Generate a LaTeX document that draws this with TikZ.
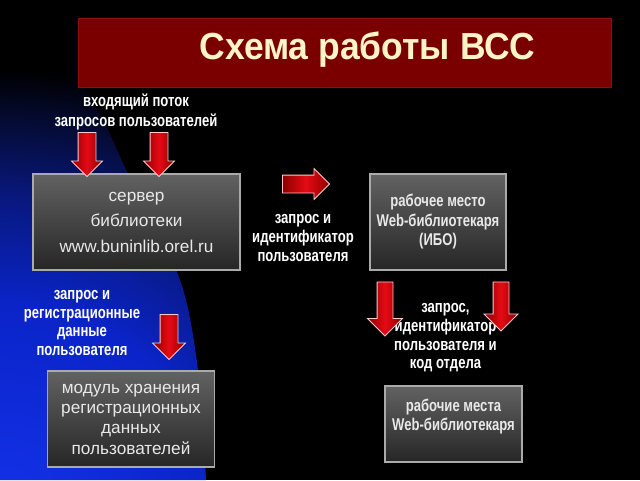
\documentclass[tikz,border=0pt]{standalone}
\usepackage{fontspec}
\setmainfont{Liberation Sans}
\newfontfamily\lblfont[FakeStretch=0.77]{Liberation Sans}
\newfontfamily\ttlfont[FakeStretch=0.94]{Liberation Sans}
\usetikzlibrary{shapes.arrows}
\definecolor{gA}{RGB}{20,50,235}
\definecolor{gB}{RGB}{10,36,200}
\definecolor{gC}{RGB}{8,24,125}
\definecolor{gD}{RGB}{5,12,55}
\definecolor{barfill}{RGB}{122,0,0}
\definecolor{baredge}{RGB}{140,15,15}
\definecolor{ttl}{RGB}{255,244,200}
\definecolor{boxtop}{RGB}{98,98,98}
\definecolor{boxbot}{RGB}{38,38,38}
\definecolor{boxedge}{RGB}{170,170,170}
\definecolor{boxtext}{RGB}{232,232,232}
\definecolor{arrdark}{RGB}{140,0,0}
\definecolor{arrbright}{RGB}{230,10,20}
\definecolor{arredge}{RGB}{255,200,200}
\pgfdeclareradialshading{glow}{\pgfpoint{0bp}{0bp}}{color(0bp)=(gA); color(12bp)=(gB); color(18bp)=(gC); color(22bp)=(gD); color(25bp)=(black); color(50bp)=(black)}
\begin{document}
\begin{tikzpicture}[x=1pt,y=-1pt,
  titlebar/.style={draw=baredge, line width=1pt, fill=barfill, minimum width=533pt, minimum height=69pt, inner sep=0pt},
  titletext/.style={text=ttl, font=\ttlfont\bfseries\fontsize{37.7}{40}\selectfont, inner sep=0pt},
  boxnode/.style={draw=boxedge, line width=1.2pt, top color=boxtop, bottom color=boxbot, inner sep=0pt, align=center, text=boxtext},
  plaintext/.style={font=\fontsize{17.2}{25.5}\selectfont},
  lbl/.style={text=white, align=center, inner sep=0pt, font=\lblfont\bfseries\fontsize{17}{18.7}\selectfont},
  blockarrow/.style={shape=single arrow, draw=arredge, line width=0.8pt, inner sep=0pt, inner ysep=8.5pt,
     single arrow head extend=6.5pt, left color=arrdark, right color=arrdark, middle color=arrbright}
]
\fill[black] (0,0) rectangle (640,480);
\useasboundingbox (0,0) rectangle (640,480);
\begin{scope}
  \clip (0,40) -- plot[smooth] coordinates {(70,60) (104,122) (130,178) (180,280) (198,370) (206,480)} -- (0,480) -- cycle;
  \shade[shading=glow] (0,520) circle (450);
\end{scope}

\node[titlebar] (bar) at (344.5,52.5) {};
\node[titletext] (title) at (367.5,50) {Схема работы ВСС};

\node[lbl, font=\lblfont\bfseries\fontsize{17}{20}\selectfont] (inflow) at (136,112) {входящий поток\\запросов пользователей};

\node[boxnode, plaintext, minimum width=207pt, minimum height=96pt] (srv) at (136.5,222) {сервер\\библиотеки\\www.buninlib.orel.ru};
\node[boxnode, lbl, text=boxtext, minimum width=136pt, minimum height=96pt, font=\lblfont\bfseries\fontsize{17}{19.5}\selectfont] (ibo) at (438,222) {рабочее место\\Web-библиотекаря\\(ИБО)};
\node[boxnode, lbl, text=boxtext, minimum width=137pt, minimum height=76pt, font=\lblfont\bfseries\fontsize{17}{19}\selectfont] (ws) at (453.5,424) {рабочие места\\Web-библиотекаря\\\mbox{}};
\node[boxnode, minimum width=167pt, minimum height=96pt, font=\fontsize{17.2}{20.3}\selectfont] (mod) at (131,419) {модуль хранения\\регистрационных\\данных\\пользователей};

\node[lbl] (l1) at (303,238) {запрос и\\идентификатор\\пользователя};
\node[lbl] (l2) at (445.5,338) {запрос,\\идентификатор\\пользователя и\\код отдела};
\node[lbl] (l3) at (82,323) {запрос и\\регистрационные\\данные\\пользователя};

\node[blockarrow, rotate=-90, minimum height=44pt] (a1) at (87,150) {};
\node[blockarrow, rotate=-90, minimum height=44pt] (a2) at (159,150) {};
\node[blockarrow, minimum height=47pt] (a3) at (301.5,184) {};
\node[blockarrow, rotate=-90, minimum height=54pt, inner ysep=7.5pt, single arrow head extend=9.5pt] (a4) at (385,305) {};
\node[blockarrow, rotate=-90, minimum height=49pt, inner ysep=7.5pt, single arrow head extend=9pt] (a5) at (501,302.5) {};
\node[blockarrow, rotate=-90, minimum height=45pt, single arrow head extend=7.5pt] (a6) at (169,332.5) {};
\end{tikzpicture}
\end{document}
